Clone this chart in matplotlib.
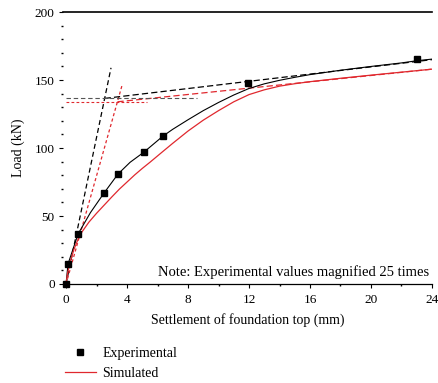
import matplotlib
matplotlib.use("Agg")
import matplotlib.pyplot as plt
from matplotlib.ticker import MultipleLocator

plt.rcParams['font.family'] = ['Liberation Serif', 'DejaVu Serif']

# Experimental load-settlement points (loads magnified 25 times)
exp_settlement = [0.0, 0.13, 0.79, 2.49, 3.41, 5.11, 6.36, 11.93, 23.0]
exp_load = [0.0, 14.7, 36.8, 66.9, 80.9, 97.0, 108.8, 147.8, 165.4]

# Experimental curve
exp_curve_x = [0.0, 0.13, 0.79, 1.6, 2.49, 3.41, 4.2, 5.11, 6.36, 7.0, 8.0, 9.0,
               10.0, 11.0, 12.0, 13.0, 14.0, 15.0, 16.0, 18.0, 20.0, 22.0, 23.0, 24.0]
exp_curve_y = [0.0, 14.7, 36.8, 52.5, 66.9, 80.9, 89.5, 97.0, 108.8, 113.8, 120.8, 127.5,
               133.5, 139.0, 143.8, 147.2, 149.8, 152.0, 154.0, 157.2, 160.0, 162.6, 164.2, 165.4]

# Simulated curve
sim_x = [0.0, 0.1, 0.25, 0.5, 0.9, 1.5, 2.0, 2.5, 3.0, 3.5, 4.0, 4.5, 5.0, 5.5, 6.3,
         7.0, 8.0, 9.0, 10.0, 11.0, 12.0, 13.0, 14.0, 15.0, 16.0, 18.0, 20.0, 22.0, 24.0]
sim_y = [0.0, 8.0, 15.0, 25.0, 36.0, 45.5, 52.0, 58.0, 64.0, 69.8, 75.0, 80.2, 85.0, 89.5, 97.0,
         103.5, 112.5, 120.5, 127.5, 134.0, 139.3, 142.8, 145.5, 147.3, 148.8, 151.3, 153.6, 155.8, 158.0]

# Tangent construction lines: (x0, x1), (y0, y1)
exp_initial_tangent = ([0.0, 2.95], [0.0, 159.0])
sim_initial_tangent = ([0.0, 3.67], [0.0, 146.0])
exp_final_tangent = ([2.53, 24.0], [136.5, 165.0])
sim_final_tangent = ([3.37, 24.0], [134.0, 158.0])
exp_limit_line = ([0.0, 8.6], [136.5, 136.5])
sim_limit_line = ([0.0, 5.3], [134.0, 134.0])

x_ticks = [0, 4, 8, 12, 16, 20, 24]
y_ticks = [0, 50, 100, 150, 200]

red = '#e0282e'

fig = plt.figure(figsize=(4.39, 3.83), dpi=100)
ax = fig.add_axes([0.1435, 0.2585, 0.8405, 0.710])

# Construction lines
ax.plot(*exp_initial_tangent, color='black', lw=0.9, ls=(0, (4, 2.5)))
ax.plot(*sim_initial_tangent, color=red, lw=0.9, ls=(0, (2.5, 2)))
ax.plot(*exp_final_tangent, color='black', lw=0.9, ls=(0, (5, 2.5)))
ax.plot(*sim_final_tangent, color=red, lw=0.9, ls=(0, (5, 2.5)))
ax.plot(*exp_limit_line, color='#555555', lw=0.8, ls=(0, (4, 2.5)))
ax.plot(*sim_limit_line, color=red, lw=0.8, ls=(0, (2.5, 2)))

# Curves
ax.plot(exp_curve_x, exp_curve_y, color='black', lw=0.8)
ax.plot(sim_x, sim_y, color=red, lw=0.9)
ax.plot(exp_settlement, exp_load, ls='none', marker='s', ms=4.8,
        color='black', clip_on=False, zorder=5)

ax.set_xlim(-0.2, 24)
ax.set_ylim(0, 200)
ax.set_xticks(x_ticks)
ax.set_yticks(y_ticks)
ax.xaxis.set_minor_locator(MultipleLocator(2))
ax.yaxis.set_minor_locator(MultipleLocator(10))
ax.tick_params(axis='both', which='major', direction='out', length=3, width=0.8,
               labelsize=9.5, pad=3)
ax.tick_params(axis='both', which='minor', direction='out', length=1.5, width=1.0)
ax.tick_params(axis='x', pad=4)

for side in ('left', 'right'):
    ax.spines[side].set_visible(False)
ax.spines['top'].set_linewidth(1.2)
ax.spines['bottom'].set_linewidth(0.9)

ax.set_xlabel('Settlement of foundation top (mm)', fontsize=10, labelpad=5)
ax.set_ylabel('Load (kN)', fontsize=10, labelpad=7)

ax.text(23.8, 4, 'Note: Experimental values magnified 25 times',
        ha='right', va='bottom', fontsize=10.5)

handles = [
    plt.Line2D([], [], ls='none', marker='s', ms=4.8, color='black'),
    plt.Line2D([], [], color=red, lw=0.9),
]
fig.legend(handles, ['Experimental', 'Simulated'], loc='upper left',
           bbox_to_anchor=(0.148, 0.095), frameon=False, fontsize=10,
           handlelength=2.2, handletextpad=0.5, labelspacing=0.55,
           borderpad=0, borderaxespad=0)

fig.savefig('out.png', dpi=100)
